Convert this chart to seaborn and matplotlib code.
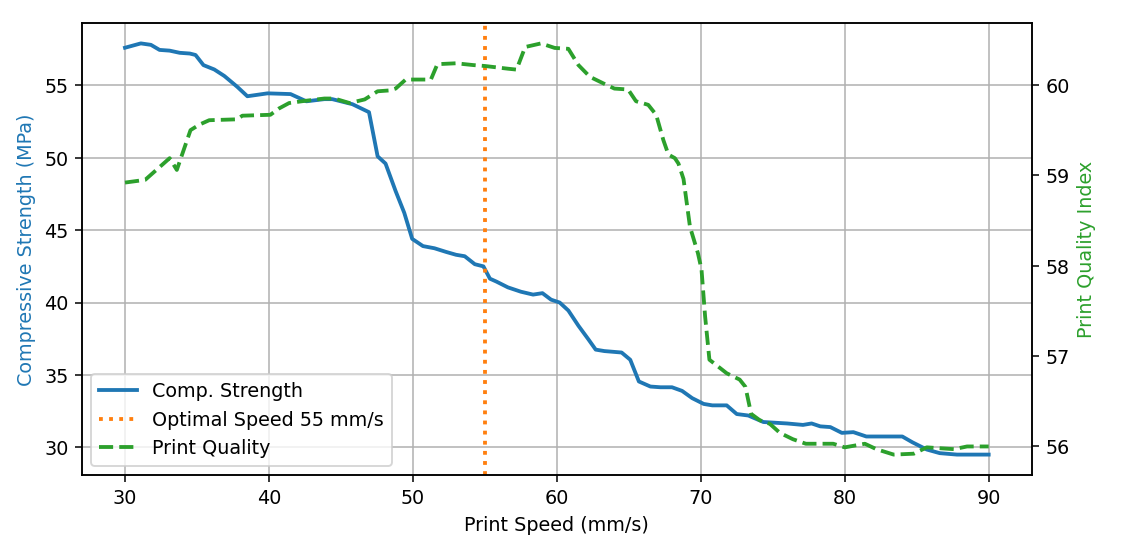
import matplotlib
matplotlib.use("Agg")
import matplotlib.pyplot as plt
import seaborn as sns

# Compressive strength readings (print speed mm/s, MPa)
strength_speed = [30.0, 31.1, 31.8, 32.4, 33.1, 33.8, 34.5, 34.9, 35.45, 36.2,
                  36.9, 37.8, 38.5, 39.9, 41.5, 42.6, 43.85, 44.4, 45.8, 46.95,
                  47.55, 48.1, 48.8, 49.4, 49.95, 50.7, 51.5, 52.3, 53.0, 53.6,
                  54.3, 54.9, 55.35, 55.8, 56.6, 57.5, 58.35, 59.0, 59.6, 60.2,
                  60.8, 61.5, 62.2, 62.7, 63.3, 64.5, 65.1, 65.7, 66.5, 67.2,
                  68.0, 68.7, 69.4, 70.2, 70.8, 71.8, 72.5, 73.3, 74.35, 76.0,
                  77.1, 77.7, 78.3, 79.0, 79.8, 80.6, 81.5, 82.7, 84.0, 84.7,
                  85.7, 86.6, 87.8, 90.0]
strength_mpa = [57.6, 57.9, 57.8, 57.45, 57.4, 57.25, 57.2, 57.1, 56.4, 56.1,
                55.65, 54.9, 54.25, 54.45, 54.4, 53.9, 54.05, 54.05, 53.7, 53.15,
                50.1, 49.6, 47.7, 46.2, 44.4, 43.9, 43.75, 43.5, 43.3, 43.2,
                42.65, 42.5, 41.65, 41.45, 41.05, 40.75, 40.55, 40.65, 40.2, 40.0,
                39.45, 38.4, 37.45, 36.75, 36.65, 36.55, 36.05, 34.55, 34.2, 34.15,
                34.15, 33.9, 33.4, 33.0, 32.9, 32.9, 32.3, 32.2, 31.75, 31.65,
                31.55, 31.65, 31.45, 31.4, 31.0, 31.05, 30.75, 30.75, 30.75, 30.35,
                29.85, 29.6, 29.5, 29.5]

# Print quality index readings
quality_speed = [30.0, 31.4, 33.1, 33.6, 34.55, 35.15, 35.85, 37.8, 38.15, 40.1,
                 40.7, 41.4, 42.3, 43.85, 44.55, 45.6, 46.65, 47.55, 48.4, 48.8,
                 49.5, 50.1, 51.25, 51.7, 53.0, 54.2, 55.0, 56.6, 57.2, 57.8,
                 58.9, 59.85, 60.8, 61.5, 62.3, 63.2, 64.0, 64.95, 65.5, 66.35,
                 66.9, 67.4, 67.75, 68.2, 68.45, 68.8, 69.25, 69.8, 70.05, 70.3,
                 70.6, 71.8, 72.7, 73.1, 73.5, 74.1, 74.8, 75.5, 76.4, 77.3,
                 79.2, 80.0, 81.4, 82.2, 83.4, 84.8, 85.7, 87.6, 88.5, 90.0]
quality_index = [58.92, 58.95, 59.19, 59.06, 59.5, 59.56, 59.61, 59.62, 59.66, 59.67,
                 59.74, 59.8, 59.82, 59.85, 59.85, 59.8, 59.84, 59.93, 59.94, 59.96,
                 60.06, 60.06, 60.06, 60.23, 60.24, 60.22, 60.21, 60.18, 60.17, 60.42,
                 60.46, 60.41, 60.4, 60.22, 60.09, 60.02, 59.96, 59.95, 59.82, 59.78,
                 59.67, 59.39, 59.23, 59.19, 59.13, 58.96, 58.43, 58.14, 57.96, 57.44,
                 56.96, 56.81, 56.74, 56.66, 56.36, 56.29, 56.25, 56.15, 56.08, 56.03,
                 56.03, 55.99, 56.03, 55.97, 55.91, 55.92, 55.99, 55.97, 56.0, 56.0]

optimal_speed = 55

fig, ax1 = plt.subplots(figsize=(1136.4 / 137.5, 540.4 / 137.5), dpi=137.5)
fig.subplots_adjust(left=0.072, right=0.908, top=0.957, bottom=0.12)

sns.lineplot(x=strength_speed, y=strength_mpa, ax=ax1, color="tab:blue",
             linewidth=2, label="Comp. Strength", sort=False)
ax1.axvline(optimal_speed, color="tab:orange", linestyle=":", linewidth=2,
            label=f"Optimal Speed {optimal_speed} mm/s")
ax1.set_xlabel("Print Speed (mm/s)")
ax1.set_ylabel("Compressive Strength (MPa)", color="tab:blue")
ax1.set_xticks([30, 40, 50, 60, 70, 80, 90])
ax1.grid(True)

ax2 = ax1.twinx()
sns.lineplot(x=quality_speed, y=quality_index, ax=ax2, color="tab:green",
             linestyle="--", linewidth=2, label="Print Quality", sort=False)
ax2.set_ylabel("Print Quality Index", color="tab:green")

# one legend for both axes
h1, l1 = ax1.get_legend_handles_labels()
h2, l2 = ax2.get_legend_handles_labels()
for a in (ax1, ax2):
    if a.get_legend() is not None:
        a.get_legend().remove()
ax1.legend(h1 + h2, l1 + l2, loc="lower left")

fig.savefig("out.png", dpi=137.5)
